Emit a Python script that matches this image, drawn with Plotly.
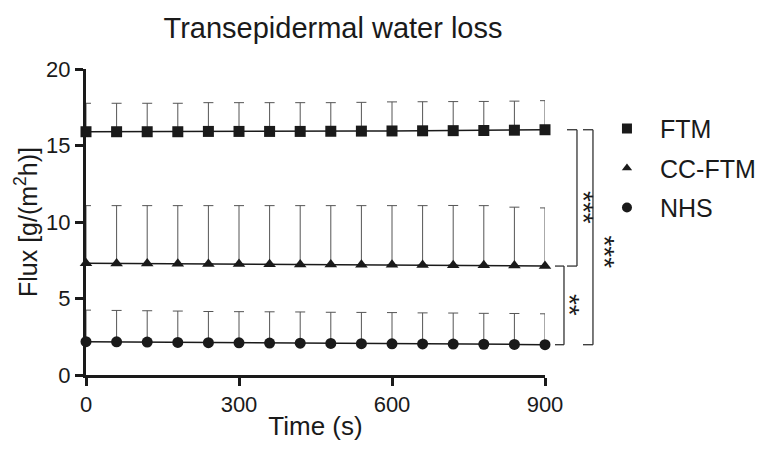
import plotly.graph_objects as go

time_s = [0, 60, 120, 180, 240, 300, 360, 420, 480, 540, 600, 660, 720, 780, 840, 900]

ftm_mean = [15.90, 15.90, 15.90, 15.90, 15.92, 15.92, 15.92, 15.92, 15.93, 15.94, 15.95, 15.96, 15.97, 15.98, 16.00, 16.03]
ftm_sd = [1.86, 1.86, 1.86, 1.86, 1.88, 1.88, 1.88, 1.88, 1.87, 1.88, 1.90, 1.90, 1.90, 1.90, 1.90, 1.90]

ccftm_mean = [7.30, 7.29, 7.28, 7.27, 7.26, 7.25, 7.24, 7.23, 7.22, 7.21, 7.20, 7.19, 7.18, 7.17, 7.15, 7.12]
ccftm_sd = [3.77, 3.78, 3.79, 3.80, 3.81, 3.82, 3.83, 3.84, 3.85, 3.86, 3.87, 3.88, 3.90, 3.90, 3.82, 3.80]

nhs_mean = [2.18, 2.17, 2.15, 2.13, 2.11, 2.10, 2.09, 2.08, 2.06, 2.05, 2.04, 2.03, 2.02, 2.01, 2.00, 1.98]
nhs_sd = [2.06, 2.05, 2.05, 2.05, 2.04, 2.04, 2.04, 2.04, 2.04, 2.04, 2.04, 2.03, 2.03, 2.02, 2.02, 2.02]

series_names = ["FTM", "CC-FTM", "NHS"]
series_symbols = ["square", "triangle-up", "circle"]
significance = ["***", "***", "**"]

FONT = "Liberation Sans, Arial, sans-serif"
INK = "#1a1a1a"

fig = go.Figure()

for name, sym, mean, sd in zip(series_names, series_symbols,
                               [ftm_mean, ccftm_mean, nhs_mean],
                               [ftm_sd, ccftm_sd, nhs_sd]):
    fig.add_trace(go.Scatter(
        x=time_s, y=mean, mode="lines+markers", name=name,
        line=dict(color=INK, width=1.5),
        marker=dict(symbol=sym, size=11, color=INK),
        error_y=dict(type="data", array=sd, arrayminus=[0] * len(sd), symmetric=False,
                     color="#555555", thickness=1, width=5),
        cliponaxis=False, showlegend=False,
    ))
    fig.add_trace(go.Scatter(
        x=[None], y=[None], mode="markers", name=name, legendgroup=name,
        marker=dict(symbol=sym, size=10 if sym != "triangle-up" else 9, color=INK),
        showlegend=True,
    ))

# screen px -> paper x (plot area spans 85.7..545 px on screen)
def px2paper(px):
    return (px - 85.7) / (545 - 85.7)

def bracket(x0, x1, y0, y1):
    for yy in (y0, y1):
        fig.add_shape(type="line", xref="paper", yref="y", x0=x0, x1=x1, y0=yy, y1=yy,
                      line=dict(color="#333333", width=1.3))
    fig.add_shape(type="line", xref="paper", yref="y", x0=x1, x1=x1, y0=y0, y1=y1,
                  line=dict(color="#333333", width=1.3))

ftm_last = ftm_mean[-1]
cc_last = ccftm_mean[-1]
nhs_last = nhs_mean[-1]

bracket(px2paper(567), px2paper(577), ftm_last, cc_last)
bracket(px2paper(583), px2paper(593), ftm_last, nhs_last)
bracket(px2paper(555), px2paper(564), cc_last, nhs_last)

for txt, xpx, yv in [(significance[0], 601, 10.95),
                     (significance[1], 622, 8.05),
                     (significance[2], 587, 4.55)]:
    fig.add_annotation(x=px2paper(xpx), xref="paper", y=yv, yref="y", text=txt,
                       textangle=90, showarrow=False,
                       font=dict(family=FONT, size=28, color=INK))

fig.update_layout(
    width=755, height=433,
    margin=dict(l=77.7, r=218, t=60.5, b=66, autoexpand=False),
    plot_bgcolor="white", paper_bgcolor="white",
    font=dict(family=FONT, color=INK),
    title=dict(text="Transepidermal water loss", x=325 / 755, xanchor="center",
               y=1 - 20 / 433, yanchor="middle", font=dict(size=29, color=INK)),
    legend=dict(x=px2paper(594), y=0.88, xanchor="left", yanchor="top",
                font=dict(size=25, color=INK), traceorder="grouped",
                tracegroupgap=4, itemwidth=56, bgcolor="rgba(0,0,0,0)"),
    xaxis=dict(range=[0, 900], tickvals=[0, 300, 600, 900], showline=True,
               linecolor=INK, linewidth=3, ticks="outside", ticklen=8, tickwidth=2.5,
               tickcolor=INK, showgrid=False, zeroline=False, automargin=False,
               tickfont=dict(size=22, color=INK),
               title=dict(text="Time (s)", font=dict(size=26, color=INK), standoff=17)),
    yaxis=dict(range=[0, 20], tickvals=[0, 5, 10, 15, 20], showline=True,
               linecolor=INK, linewidth=3, ticks="outside", ticklen=8, tickwidth=2.5,
               tickcolor=INK, showgrid=False, zeroline=False, automargin=False,
               tickfont=dict(size=22, color=INK),
               title=dict(text="Flux [g/(m<sup>2</sup>h)]", font=dict(size=25, color=INK), standoff=2)),
)

fig.write_html("out.html")
